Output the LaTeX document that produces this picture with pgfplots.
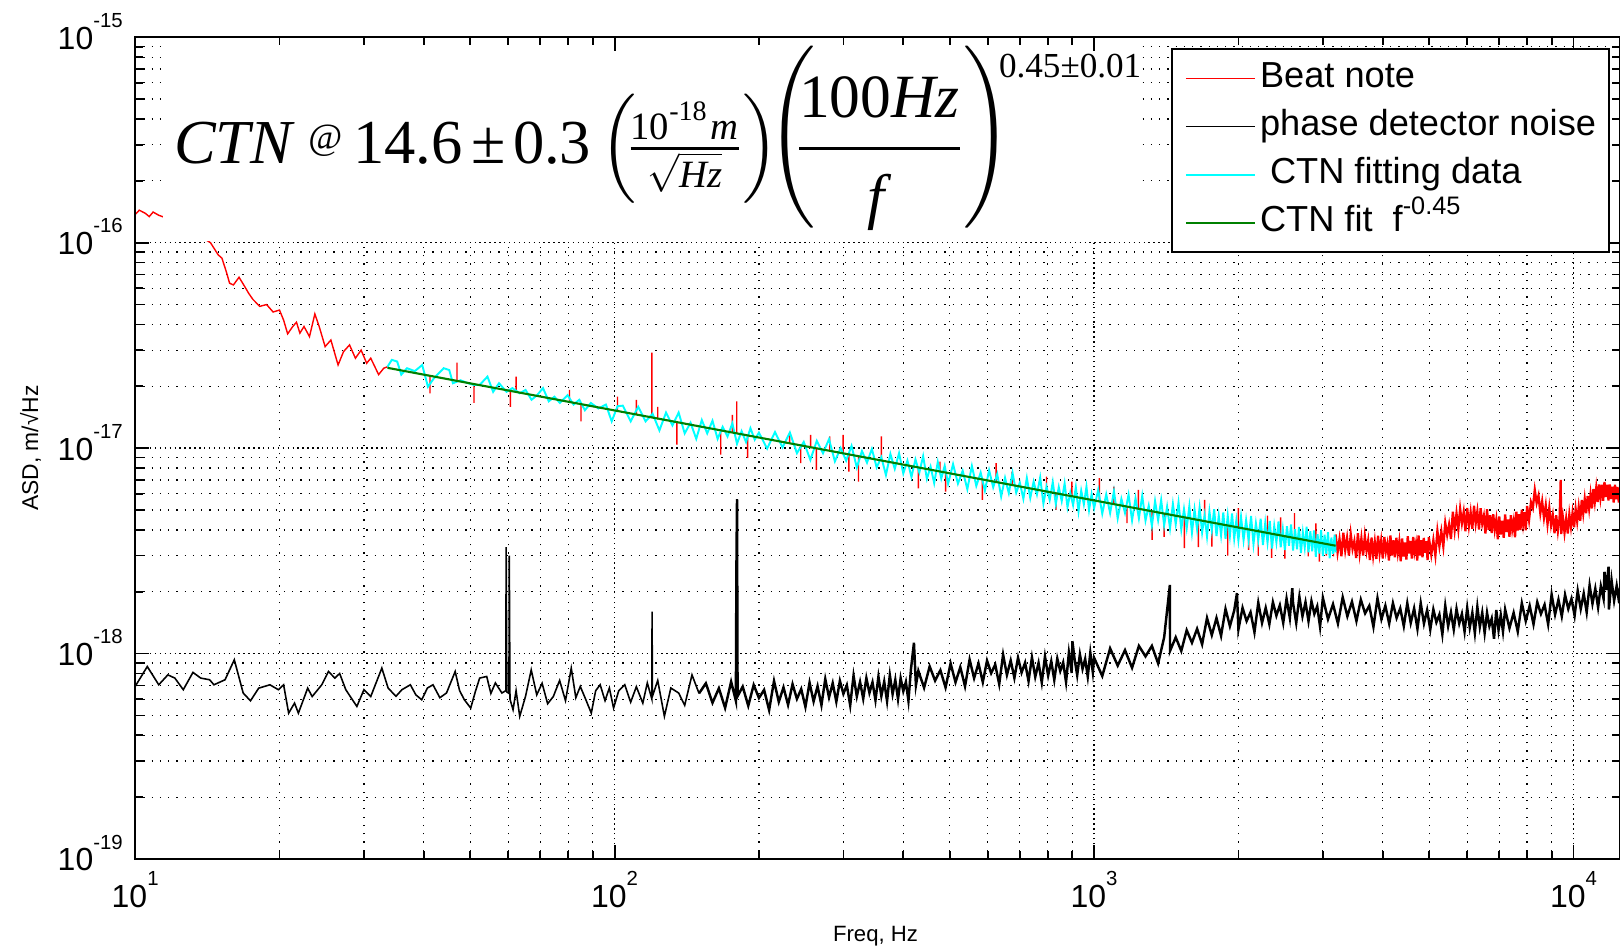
\documentclass[border=0pt]{standalone}
\usepackage{amsmath}
\usepackage{fontspec}
\setmainfont{Liberation Sans}
\newfontfamily\tnr{Liberation Serif}
\usepackage{pgfplots}
\pgfplotsset{compat=1.18}
\pgfplotsset{/pgfplots/layers/mylayers/.define layer set={axis background,axis grid,pre main,main,axis ticks,axis lines,axis tick labels,axis descriptions,axis foreground}{/pgfplots/layers/standard}}
\newcommand{\tp}[1]{\fontsize{9.1}{10}\selectfont 10\raisebox{2.2mm}{\fontsize{5.8}{6}\selectfont #1}}
\definecolor{fitgreen}{RGB}{0,128,0}
\definecolor{ctncyan}{RGB}{0,255,255}
\definecolor{beatred}{RGB}{255,0,0}
\begin{document}
\begin{tikzpicture}
\begin{axis}[
  set layers=mylayers,
  at={(0,0)}, anchor=south west,
  scale only axis, width=148.53mm, height=82.2mm,
  xmode=log, ymode=log,
  xmin=10, xmax=12500, ymin=1e-19, ymax=1e-15,
  xtick={10,100,1000,10000},
  xticklabels={\tp{1},\tp{2},\tp{3},\tp{4}},
  minor xtick={20,30,40,50,60,70,80,90,200,300,400,500,600,700,800,900,2000,3000,4000,5000,6000,7000,8000,9000},
  ytick={1e-19,1e-18,1e-17,1e-16,1e-15},
  yticklabels={\tp{-19},\tp{-18},\tp{-17},\tp{-16},\tp{-15}},
  minor ytick={2e-19,3e-19,4e-19,5e-19,6e-19,7e-19,8e-19,9e-19,2e-18,3e-18,4e-18,5e-18,6e-18,7e-18,8e-18,9e-18,2e-17,3e-17,4e-17,5e-17,6e-17,7e-17,8e-17,9e-17,2e-16,3e-16,4e-16,5e-16,6e-16,7e-16,8e-16,9e-16},
  grid=both,
  major grid style={black, line width=0.4pt, densely dotted},
  minor grid style={black, line width=0.35pt, dotted},
  tick pos=both, tick align=inside,
  major tick length=1.4mm, minor tick length=0.8mm,
  tick style={black, line width=0.5pt},
  axis line style={black, line width=0.5pt},
  yticklabel style={yshift=0.6mm},
  xlabel={Freq, Hz}, ylabel={ASD, m/√Hz},
  every axis x label/.style={at={(axis description cs:0.4986,-0.1002)}, anchor=base, font=\fontsize{6.3}{7}\selectfont},
  every axis y label/.style={at={(axis description cs:-0.0705,0.5)}, anchor=center, rotate=90, font=\fontsize{6.5}{7}\selectfont},
  legend cell align=left,
  legend image code/.code={\draw[#1] (0mm,0mm) -- (6.86mm,0mm);},
  legend style={at={(0.6976,0.9866)}, anchor=north west, draw=black, line width=0.5pt, fill=white, font=\fontsize{10.3}{12}\selectfont, inner xsep=1.3mm, inner ysep=1.25mm, row sep=1.4mm, column sep=0.45mm, nodes={inner sep=0pt, text height=2.6mm, text depth=0.8mm}},
  unbounded coords=jump,
]
% Beat note: low frequencies and the spikes that stand out of the fitted band
\addplot[beatred, line width=0.4pt] coordinates {
(10,1.37e-16) (10.2,1.44e-16) (10.5,1.39e-16) (10.7,1.34e-16) (10.9,1.41e-16) (11.2,1.36e-16) (11.5,1.33e-16) (12,1.25e-16) (12.6,1.2e-16) (13.2,1.12e-16) (13.8,1.06e-16) (14.36,1.0e-16) (14.9,8.73e-17) (15.17,8.41e-17) (15.5,7.2e-17) (15.74,6.35e-17) (16.03,6.23e-17) (16.47,6.79e-17) (16.93,6.11e-17) (17.25,5.67e-17) (17.6,5.3e-17) (18.2,4.9e-17) (18.8,5.0e-17) (19.4,4.6e-17) (20,4.7e-17) (20.4,4.2e-17) (20.8,3.6e-17) (21.3,3.9e-17) (21.7,4.1e-17) (22.06,3.63e-17) (22.5,3.91e-17) (23.1,3.49e-17) (23.7,4.5e-17) (24.2,3.91e-17) (24.9,3.12e-17) (25.6,3.36e-17) (26.5,2.54e-17) (27.2,2.95e-17) (28.0,3.18e-17) (28.8,2.74e-17) (29.6,3.0e-17) (30.4,2.59e-17) (31.0,2.74e-17) (32.2,2.28e-17) (33.0,2.45e-17) (33.6,2.49e-17) (33.6,nan)
(41.2,2.24e-17) (41.2,1.85e-17) (41.2,nan) (46.9,2.12e-17) (46.9,2.61e-17) (46.9,nan) (50.9,2.04e-17) (50.9,1.66e-17) (50.9,nan)
(60.6,1.89e-17) (60.6,1.59e-17) (60.6,nan) (62.3,1.87e-17) (62.3,2.23e-17) (62.3,nan) (80.5,1.67e-17) (80.5,1.92e-17) (80.5,nan)
(85.1,1.63e-17) (85.1,1.35e-17) (85.1,nan) (101.4,1.51e-17) (101.4,1.78e-17) (101.4,nan) (111,1.45e-17) (111,1.72e-17) (111,nan)
(119.6,1.40e-17) (119.6,2.92e-17) (119.6,nan) (123,1.38e-17) (123,1.59e-17) (123,nan) (134.8,1.33e-17) (134.8,1.04e-17) (134.8,nan)
(166.5,1.22e-17) (166.5,0.93e-17) (166.5,nan) (176,1.19e-17) (176,1.45e-17) (176,nan) (179.8,1.175e-17) (179.8,1.69e-17) (179.8,nan)
(189.4,1.14e-17) (189.4,0.897e-17) (189.4,nan) (231.7,1.05e-17) (231.7,1.18e-17) (231.7,nan) (244.4,1.03e-17) (244.4,0.845e-17) (244.4,nan)
(256.4,1.0e-17) (256.4,1.16e-17) (256.4,nan) (263.5,0.99e-17) (263.5,0.783e-17) (263.5,nan) (281,0.96e-17) (281,1.14e-17) (281,nan)
(299.7,0.94e-17) (299.7,1.16e-17) (299.7,nan) (308,0.93e-17) (308,0.769e-17) (308,nan) (322.6,0.91e-17) (322.6,0.687e-17) (322.6,nan)
(360,0.87e-17) (360,1.14e-17) (360,nan) (430,0.80e-17) (430,0.638e-17) (430,nan) (477,0.76e-17) (477,0.86e-17) (477,nan)
(490,0.75e-17) (490,0.615e-17) (490,nan) (585,0.70e-17) (585,0.56e-17) (585,nan) (624.6,0.68e-17) (624.6,0.845e-17) (624.6,nan)
(674.5,0.66e-17) (674.5,0.769e-17) (674.5,nan) (796,0.61e-17) (796,0.727e-17) (796,nan) (832,0.60e-17) (832,0.501e-17) (832,nan)
(899,0.58e-17) (899,0.687e-17) (899,nan) (1026,0.55e-17) (1026,0.714e-17) (1026,nan) (1100,0.53e-17) (1100,0.65e-17) (1100,nan)
(1171,0.52e-17) (1171,0.431e-17) (1171,nan) (1237,0.505e-17) (1237,0.626e-17) (1237,nan) (1321,0.49e-17) (1321,0.358e-17) (1321,nan)
(1400,0.478e-17) (1400,0.37e-17) (1400,nan) (1543,0.458e-17) (1543,0.326e-17) (1543,nan) (1650,0.445e-17) (1650,0.33e-17) (1650,nan)
(1700,0.44e-17) (1700,0.56e-17) (1700,nan) (1761,0.433e-17) (1761,0.332e-17) (1761,nan) (1900,0.419e-17) (1900,0.30e-17) (1900,nan)
(2000,0.409e-17) (2000,0.51e-17) (2000,nan) (2101,0.40e-17) (2101,0.32e-17) (2101,nan) (2200,0.393e-17) (2200,0.30e-17) (2200,nan)
(2300,0.385e-17) (2300,0.47e-17) (2300,nan) (2345,0.381e-17) (2345,0.292e-17) (2345,nan) (2450,0.374e-17) (2450,0.46e-17) (2450,nan)
(2500,0.371e-17) (2500,0.29e-17) (2500,nan) (2618,0.364e-17) (2618,0.483e-17) (2618,nan) (2797,0.353e-17) (2797,0.297e-17) (2797,nan)
(2900,0.348e-17) (2900,0.43e-17) (2900,nan) (2950,0.345e-17) (2950,0.28e-17) (2950,nan) (3050,0.34e-17) (3050,0.30e-17) (3050,nan)
(3157,0.335e-17) (3157,0.297e-17) (3157,nan)
};
\addlegendentry{Beat note}
% Beat note above the fitting range (dense part)
\addplot[beatred, line width=0.65pt, forget plot] coordinates {
(3190,3.80e-18) (3220,3.10e-18) (3250,3.61e-18) (3280,2.98e-18) (3310,3.88e-18) (3340,3.18e-18) (3370,3.66e-18) (3400,3.00e-18) (3430,3.82e-18) (3460,3.23e-18) (3490,3.53e-18) (3520,2.92e-18) (3550,3.85e-18) (3580,3.08e-18) (3610,3.64e-18) (3640,3.00e-18) (3670,3.73e-18) (3700,3.16e-18) (3730,3.55e-18) (3760,2.85e-18) (3790,3.67e-18) (3820,3.00e-18) (3850,3.50e-18) (3880,2.89e-18) (3910,3.75e-18) (3940,3.08e-18) (3970,3.54e-18) (4000,2.90e-18) (4030,3.70e-18) (4060,3.14e-18) (4090,3.43e-18) (4120,2.84e-18) (4150,3.76e-18) (4180,3.00e-18) (4210,3.56e-18) (4240,2.94e-18) (4270,3.66e-18) (4300,3.10e-18) (4330,3.50e-18) (4360,2.81e-18) (4390,3.63e-18) (4420,2.97e-18) (4450,3.47e-18) (4480,2.87e-18) (4510,3.73e-18) (4540,3.07e-18) (4570,3.53e-18) (4600,2.90e-18) (4630,3.70e-18) (4660,3.14e-18) (4690,3.43e-18) (4720,2.84e-18) (4750,3.76e-18) (4780,3.00e-18) (4810,3.56e-18) (4840,2.94e-18) (4870,3.66e-18) (4900,3.10e-18) (4930,3.52e-18) (4960,2.85e-18) (4990,3.69e-18)
(5050,3.03e-18) (5100,3.57e-18) (5150,3.00e-18) (5200,3.96e-18) (5250,3.33e-18) (5300,3.93e-18) (5350,3.32e-18) (5400,4.33e-18) (5450,3.78e-18) (5500,4.25e-18) (5550,3.61e-18) (5600,4.90e-18) (5650,3.99e-18) (5700,4.82e-18) (5750,4.03e-18) (5800,5.07e-18) (5850,4.31e-18) (5900,4.89e-18) (5950,3.94e-18) (6000,5.12e-18) (6050,4.19e-18) (6100,4.88e-18) (6150,4.05e-18) (6200,5.24e-18) (6250,4.30e-18) (6300,4.92e-18) (6350,4.02e-18) (6400,5.10e-18) (6450,4.29e-18) (6500,4.68e-18) (6550,3.84e-18) (6600,5.05e-18) (6650,4.00e-18) (6700,4.72e-18) (6750,3.86e-18) (6800,4.77e-18) (6850,4.01e-18) (6900,4.49e-18) (6950,3.60e-18) (7000,4.65e-18) (7050,3.80e-18) (7100,4.43e-18) (7150,3.66e-18) (7200,4.76e-18) (7250,3.91e-18) (7300,4.49e-18) (7350,3.70e-18) (7400,4.72e-18) (7450,4.02e-18) (7500,4.42e-18) (7550,3.68e-18) (7600,4.90e-18) (7650,3.97e-18) (7700,4.77e-18) (7750,3.99e-18) (7800,5.02e-18) (7850,4.29e-18) (7900,4.88e-18) (7950,3.98e-18) (8000,5.23e-18)
(8075,4.46e-18) (8150,5.46e-18) (8225,5.12e-18) (8300,6.26e-18) (8375,5.41e-18) (8450,5.88e-18) (8525,4.82e-18) (8600,5.51e-18) (8675,4.58e-18) (8750,5.27e-18) (8825,4.27e-18) (8900,5.12e-18) (8975,4.23e-18) (9050,4.72e-18) (9125,3.85e-18) (9200,4.71e-18) (9275,3.94e-18) (9350,4.55e-18) (9400,7.0e-18) (9425,3.82e-18) (9500,4.58e-18) (9575,3.88e-18) (9650,4.54e-18) (9725,3.84e-18) (9800,4.77e-18) (9875,4.14e-18) (9950,4.84e-18) (10025,4.12e-18) (10100,5.05e-18) (10175,4.40e-18) (10250,5.17e-18) (10325,4.43e-18) (10400,5.59e-18) (10475,4.82e-18) (10550,5.65e-18) (10625,4.82e-18) (10700,5.85e-18) (10775,5.08e-18) (10850,5.96e-18) (10925,5.09e-18) (11000,6.32e-18) (11075,5.49e-18) (11150,6.40e-18) (11225,5.47e-18) (11300,6.65e-18) (11375,5.74e-18) (11450,6.64e-18) (11525,5.55e-18) (11600,6.84e-18) (11675,5.78e-18) (11750,6.63e-18) (11825,5.56e-18) (11900,6.65e-18) (11975,5.65e-18) (12050,6.49e-18) (12125,5.43e-18) (12200,6.63e-18) (12275,5.64e-18) (12350,6.47e-18) (12425,5.44e-18) (12500,6.34e-18)
};
% phase detector noise, low frequencies
\addplot[black, line width=0.45pt] coordinates {
(10,6.92e-19) (10.6,8.65e-19) (11.2,7.05e-19) (11.7,7.88e-19) (12.1,7.6e-19) (12.6,6.67e-19) (13.2,8.1e-19) (13.7,7.6e-19) (14.3,7.46e-19) (14.6,7.05e-19) (15.4,7.46e-19) (16.1,9.33e-19) (16.8,6.43e-19) (17.4,5.89e-19) (18.1,6.79e-19) (19.1,7.05e-19) (19.9,6.67e-19) (20.4,7.05e-19) (20.9,5.13e-19) (21.5,5.74e-19) (21.9,5.13e-19) (22.9,6.79e-19) (23.4,6.18e-19) (24.5,7.05e-19) (25.3,8.18e-19) (26.1,7.6e-19) (26.7,8.0e-19) (27.5,6.67e-19) (29.0,5.53e-19) (30.0,6.67e-19) (31.0,6.18e-19) (32.7,8.5e-19) (33.7,6.79e-19) (35,6.2e-19) (36.0,6.67e-19) (37.5,7.05e-19) (38.5,6.3e-19) (39.6,5.96e-19) (40.7,6.8e-19) (41.8,7.05e-19) (43.2,6.1e-19) (44.6,6.43e-19) (46.5,8.18e-19) (47.5,6.6e-19) (48.6,5.96e-19) (50.1,5.43e-19) (51.2,6.5e-19) (52.3,7.6e-19) (54.1,7.74e-19) (55.2,6.4e-19) (56.4,7.2e-19) (58.2,6.43e-19) (59.3,6.6e-19) (59.4,3.3e-18) (59.6,6.5e-19) (60.2,6.4e-19) (60.3,3.0e-18) (60.5,6.0e-19) (61.4,5.33e-19) (62.3,6.6e-19) (63.4,4.95e-19) (65.2,6.2e-19) (67.0,8.33e-19) (68.8,6.3e-19) (70.6,7.17e-19) (72.5,5.7e-19) (74.5,6.18e-19) (76.8,7.4e-19) (79,5.9e-19) (81.2,8.5e-19) (83,6.1e-19) (84.8,6.92e-19) (87,6.0e-19) (89.4,5.13e-19) (91.3,6.6e-19) (93.3,7.05e-19) (95.5,5.9e-19) (97.5,6.8e-19) (99.5,5.43e-19) (102,6.6e-19) (105,7.05e-19) (108,5.8e-19) (111,6.9e-19) (114.5,5.74e-19) (117,7.2e-19) (119.6,6.0e-19) (119.7,1.6e-18) (119.9,6.2e-19) (123,7.4e-19) (127,4.95e-19) (131,6.8e-19) (136,6.43e-19) (140,5.6e-19) (145,7.88e-19) (150,6.4e-19)
};
\addlegendentry{phase detector noise}
% phase detector noise, dense part
\addplot[black, line width=0.7pt, forget plot] coordinates {
(150,6.4e-19) (155,7.17e-19) (160,5.76e-19) (165,6.78e-19) (170,5.44e-19) (175,7.30e-19) (179,5.89e-19) (179.5,26.7e-19) (180,56.5e-19) (180.5,6.2e-19) (185,6.91e-19) (190,5.57e-19) (195,7.04e-19) (200,6.08e-19) (205,6.66e-19) (210,5.31e-19) (215,7.36e-19) (220,5.82e-19) (225,6.85e-19) (230,5.63e-19) (235,7.10e-19) (240,6.02e-19) (245,6.72e-19) (250,5.50e-19) (255,7.22e-19) (260,5.85e-19) (265,6.94e-19) (270,5.61e-19) (275,7.52e-19) (280,6.12e-19) (285,7.18e-19) (290,5.83e-19) (295,7.37e-19) (300,6.37e-19) (305,7.02e-19) (310,5.60e-19) (315,7.82e-19) (320,6.19e-19) (325,7.28e-19) (330,6.03e-19) (335,7.60e-19) (340,6.44e-19) (345,7.25e-19) (350,5.93e-19) (355,7.73e-19) (360,6.21e-19) (365,7.31e-19) (370,5.87e-19) (375,7.87e-19) (380,6.35e-19) (385,7.45e-19) (390,6.00e-19) (395,7.59e-19) (400,6.56e-19) (405,7.28e-19) (410,5.89e-19) (415,8.40e-19) (421,11.3e-19) (425,7.01e-19)
(430,8.24e-19) (442,6.82e-19) (454,8.66e-19) (466,7.38e-19) (478,8.30e-19) (490,6.84e-19) (502,8.96e-19) (514,7.25e-19) (526,8.59e-19) (538,6.93e-19) (550,9.35e-19) (562,7.59e-19) (574,8.96e-19) (586,7.26e-19) (598,9.24e-19) (610,8.03e-19) (622,8.84e-19) (634,7.10e-19) (646,9.89e-19) (658,7.87e-19) (670,9.26e-19) (682,7.61e-19) (694,9.55e-19) (706,8.08e-19) (718,9.03e-19) (730,7.35e-19) (742,9.58e-19) (754,7.70e-19) (766,9.01e-19) (778,7.23e-19) (790,9.69e-19) (802,7.82e-19) (814,9.18e-19) (826,7.44e-19) (838,9.46e-19) (850,8.22e-19) (862,9.05e-19) (874,7.26e-19) (886,10.1e-19) (898,8.05e-19) (901,11.5e-19) (910,9.52e-19) (922,7.85e-19) (934,9.92e-19) (946,8.42e-19) (958,9.42e-19) (970,7.72e-19) (982,10.1e-19) (994,8.10e-19)
(1000,9.54e-19) (1040,7.78e-19) (1080,10.6e-19) (1120,8.74e-19) (1160,10.4e-19) (1200,8.53e-19) (1240,10.9e-19) (1280,9.69e-19) (1320,10.9e-19) (1360,8.96e-19) (1400,12.0e-19) (1439,21.6e-19) (1440,10.3e-19) (1480,12.0e-19) (1520,10.3e-19) (1560,13.0e-19) (1600,11.3e-19) (1640,13.2e-19) (1680,11.1e-19) (1720,14.9e-19) (1760,12.3e-19) (1800,14.9e-19) (1840,12.2e-19) (1880,16.5e-19) (1920,13.6e-19) (1960,16.2e-19) (1986,19.7e-19) (2000,13.1e-19) (2040,16.7e-19) (2080,14.4e-19) (2120,15.9e-19) (2160,12.7e-19) (2200,17.7e-19) (2240,14.1e-19) (2280,16.7e-19) (2320,13.9e-19) (2360,17.8e-19) (2400,15.3e-19) (2440,17.2e-19) (2480,14.1e-19) (2520,18.5e-19) (2560,14.9e-19) (2590,20.8e-19) (2600,17.6e-19) (2640,14.1e-19) (2680,18.9e-19) (2720,15.2e-19) (2760,17.8e-19) (2800,14.4e-19) (2840,18.0e-19) (2880,15.6e-19) (2920,17.0e-19) (2960,13.5e-19) (3000,18.7e-19)
(3075,14.7e-19) (3150,17.4e-19) (3225,14.0e-19) (3300,18.8e-19) (3375,15.2e-19) (3450,17.9e-19) (3525,14.4e-19) (3600,18.3e-19) (3675,15.7e-19) (3750,17.1e-19) (3825,13.5e-19) (3900,18.6e-19) (3975,14.7e-19) (4050,17.1e-19) (4125,14.0e-19) (4200,17.6e-19) (4275,14.9e-19) (4350,16.6e-19) (4425,13.6e-19) (4500,17.6e-19) (4575,14.1e-19) (4650,16.6e-19) (4725,13.2e-19) (4800,17.6e-19) (4875,14.0e-19) (4950,16.3e-19) (5025,13.1e-19) (5100,16.4e-19) (5175,14.2e-19) (5250,15.5e-19) (5325,12.4e-19) (5400,17.1e-19) (5475,13.6e-19) (5550,15.9e-19) (5625,13.1e-19) (5700,16.5e-19) (5775,14.0e-19) (5850,15.6e-19) (5925,12.8e-19) (6000,16.7e-19) (6075,13.4e-19) (6150,15.8e-19) (6225,12.6e-19) (6300,16.9e-19) (6375,13.5e-19) (6450,15.8e-19) (6525,12.6e-19) (6600,15.8e-19) (6675,13.6e-19) (6750,14.8e-19) (6825,11.8e-19) (6900,16.3e-19) (6975,13.0e-19) (7050,15.4e-19) (7125,12.8e-19)
(7200,16.4e-19) (7350,13.3e-19) (7500,15.8e-19) (7650,12.8e-19) (7800,17.6e-19) (7950,14.4e-19) (8100,17.1e-19) (8250,13.9e-19) (8400,17.8e-19) (8550,15.6e-19) (8700,17.3e-19) (8850,13.9e-19) (9000,19.4e-19) (9150,15.5e-19) (9300,18.3e-19) (9450,15.2e-19) (9600,19.3e-19) (9750,16.5e-19) (9900,18.5e-19) (10050,15.3e-19) (10200,20.2e-19) (10350,16.5e-19) (10500,19.6e-19) (10650,15.9e-19) (10800,21.5e-19) (10950,17.5e-19) (11100,20.7e-19) (11250,16.8e-19) (11400,21.3e-19) (11550,18.5e-19) (11600,25.0e-19) (11700,20.4e-19) (11830,26.5e-19) (11850,16.4e-19) (12000,22.8e-19) (12150,18.1e-19) (12300,21.4e-19) (12450,17.6e-19) (12500,21.0e-19)
};
% CTN fitting data
\addplot[ctncyan, line width=0.55pt] coordinates {
(33.6,2.49e-17) (34.3,2.69e-17) (35.2,2.64e-17) (35.9,2.28e-17) (36.9,2.45e-17) (38.3,2.37e-17) (39.7,2.54e-17) (40.8,1.99e-17) (42.0,2.19e-17) (44.0,2.45e-17) (45.2,2.4e-17) (46.0,2.07e-17) (47.7,2.14e-17) (49.5,2.07e-17) (50.9,2.03e-17) (52.3,2.03e-17) (54.3,2.23e-17) (55.8,1.88e-17) (57.4,2.07e-17) (59.5,1.88e-17) (61.2,1.96e-17) (63.4,1.85e-17) (65.2,1.92e-17) (67.1,1.72e-17) (68.9,1.81e-17) (70.9,1.96e-17) (72.9,1.69e-17) (74.9,1.78e-17) (76.9,1.66e-17) (79.8,1.81e-17) (82.1,1.63e-17) (84.4,1.72e-17) (86.7,1.53e-17) (89.2,1.66e-17) (92.5,1.56e-17) (95.9,1.63e-17) (98.6,1.35e-17) (101.4,1.6e-17)
(104,1.61e-17) (108,1.35e-17) (112,1.59e-17) (116,1.35e-17) (120,1.47e-17) (124,1.22e-17) (128,1.49e-17) (132,1.29e-17) (136,1.49e-17) (140,1.18e-17) (144,1.33e-17) (148,1.11e-17) (152,1.37e-17) (156,1.18e-17) (160,1.36e-17) (164,1.11e-17) (168,1.27e-17) (172,1.14e-17) (176,1.32e-17) (180,1.05e-17) (184,1.21e-17) (188,1.07e-17) (192,1.25e-17) (196,1.10e-17) (200,1.19e-17)
(208,0.995e-17) (216,1.197e-17) (224,1.008e-17) (232,1.192e-17) (240,0.945e-17) (248,1.072e-17) (256,0.877e-17) (264,1.085e-17) (272,0.944e-17) (280,1.106e-17) (288,0.862e-17) (296,1.002e-17) (304,0.869e-17) (312,1.026e-17) (320,0.805e-17) (328,0.968e-17) (336,0.850e-17) (344,0.991e-17) (352,0.806e-17) (360,0.903e-17) (368,0.740e-17) (376,0.937e-17) (384,0.793e-17) (392,0.945e-17) (400,0.753e-17) (408,0.870e-17) (416,0.724e-17) (424,0.881e-17) (432,0.761e-17) (440,0.914e-17) (448,0.709e-17) (456,0.813e-17) (464,0.676e-17) (472,0.856e-17) (480,0.711e-17) (488,0.821e-17) (496,0.671e-17)
(508,0.836e-17) (520,0.672e-17) (532,0.776e-17) (544,0.631e-17) (556,0.819e-17) (568,0.655e-17) (580,0.761e-17) (592,0.621e-17) (604,0.781e-17) (616,0.645e-17) (628,0.748e-17) (640,0.581e-17) (652,0.717e-17) (664,0.604e-17) (676,0.758e-17) (688,0.607e-17) (700,0.680e-17) (712,0.567e-17) (724,0.716e-17) (736,0.572e-17) (748,0.687e-17) (760,0.595e-17) (772,0.720e-17) (784,0.537e-17) (796,0.649e-17) (808,0.560e-17) (820,0.684e-17) (832,0.535e-17) (844,0.646e-17) (856,0.552e-17) (868,0.673e-17) (880,0.517e-17) (892,0.606e-17) (904,0.528e-17) (916,0.645e-17) (928,0.493e-17) (940,0.621e-17) (952,0.533e-17) (964,0.649e-17) (976,0.499e-17) (988,0.597e-17) (1000,0.510e-17)
(1020,0.627e-17) (1040,0.480e-17) (1060,0.596e-17) (1080,0.483e-17) (1100,0.618e-17) (1120,0.455e-17) (1140,0.567e-17) (1160,0.484e-17) (1180,0.593e-17) (1200,0.445e-17) (1220,0.570e-17) (1240,0.455e-17) (1260,0.587e-17) (1280,0.444e-17) (1300,0.525e-17) (1320,0.418e-17) (1340,0.553e-17) (1360,0.446e-17) (1380,0.559e-17) (1400,0.421e-17) (1420,0.519e-17) (1440,0.407e-17) (1460,0.536e-17) (1480,0.426e-17) (1500,0.544e-17) (1520,0.402e-17) (1540,0.505e-17) (1560,0.407e-17) (1580,0.522e-17) (1600,0.388e-17) (1620,0.503e-17) (1640,0.402e-17) (1660,0.515e-17) (1680,0.389e-17) (1700,0.471e-17) (1720,0.371e-17) (1740,0.492e-17) (1760,0.398e-17) (1780,0.504e-17) (1800,0.373e-17) (1820,0.469e-17) (1840,0.377e-17) (1860,0.486e-17) (1880,0.362e-17) (1900,0.469e-17) (1920,0.375e-17) (1940,0.481e-17) (1960,0.363e-17) (1980,0.444e-17) (2000,0.356e-17)
(2025,0.464e-17) (2050,0.356e-17) (2075,0.447e-17) (2100,0.357e-17) (2125,0.467e-17) (2150,0.341e-17) (2175,0.431e-17) (2200,0.357e-17) (2225,0.454e-17) (2250,0.338e-17) (2275,0.433e-17) (2300,0.347e-17) (2325,0.442e-17) (2350,0.325e-17) (2375,0.418e-17) (2400,0.348e-17) (2425,0.440e-17) (2450,0.329e-17) (2475,0.403e-17) (2500,0.319e-17) (2525,0.417e-17) (2550,0.335e-17) (2575,0.425e-17) (2600,0.317e-17) (2625,0.403e-17) (2650,0.322e-17) (2675,0.414e-17) (2700,0.309e-17) (2725,0.389e-17) (2750,0.328e-17) (2775,0.415e-17) (2800,0.311e-17) (2825,0.394e-17) (2850,0.315e-17) (2875,0.398e-17) (2900,0.296e-17) (2925,0.381e-17) (2950,0.307e-17) (2975,0.399e-17) (3000,0.298e-17) (3025,0.379e-17) (3050,0.306e-17) (3075,0.390e-17) (3100,0.291e-17) (3125,0.367e-17) (3150,0.306e-17) (3175,0.379e-17) (3190,0.311e-17)
};
\addlegendentry{\hspace{1mm}CTN fitting data}
% CTN fit
\addplot[fitgreen, line width=0.6pt] coordinates {(33.6,2.46e-17) (3190,3.35e-18)};
\addlegendentry{CTN fit\ \ f\raisebox{1.67mm}{\fontsize{7.2}{8}\selectfont -0.45}}
% white background of the pasted formula
\fill[white] (axis cs:11.43,9.38e-16) rectangle (axis cs:1233,1.02e-16);
\node[anchor=base west, inner sep=0pt, font=\tnr] at (axis description cs:0.02585,0.8459) {\fontsize{17.8}{20}\selectfont\textit{CTN}\hspace{1.3mm}\raisebox{1.4mm}{\fontsize{10.5}{11}\selectfont @}\hspace{1.1mm}14.6\hspace{0.9mm}±\hspace{0.7mm}0.3\hspace{0.9mm}$\left(\!\frac{\mbox{\fontsize{11}{12}\selectfont 10\raisebox{1.9mm}{\fontsize{8}{8}\selectfont -18}\hspace{0.4mm}\textit{m}}}{\mbox{\fontsize{11}{12}\selectfont $\sqrt{\mbox{\textit{Hz}}}$}}\right)$\hspace{-1.2mm}\smash{\raisebox{1.2mm}{$\left(\!\!\rule{0pt}{11.1mm}\raisebox{-1.2mm}{$\dfrac{\mbox{\fontsize{17.5}{20}\selectfont 100\textit{Hz}}\rule[-2.3mm]{0pt}{2.3mm}}{\rule{0pt}{6mm}\mbox{\fontsize{17.5}{20}\selectfont\textit{f}}}$}\right)$}}\hspace{-1.3mm}\raisebox{8.6mm}{\fontsize{10}{11}\selectfont 0.45±0.01}};
\end{axis}
\pgfresetboundingbox
\path (-13.52mm,-8.77mm) rectangle (148.53mm,85.93mm);
\end{tikzpicture}
\end{document}
